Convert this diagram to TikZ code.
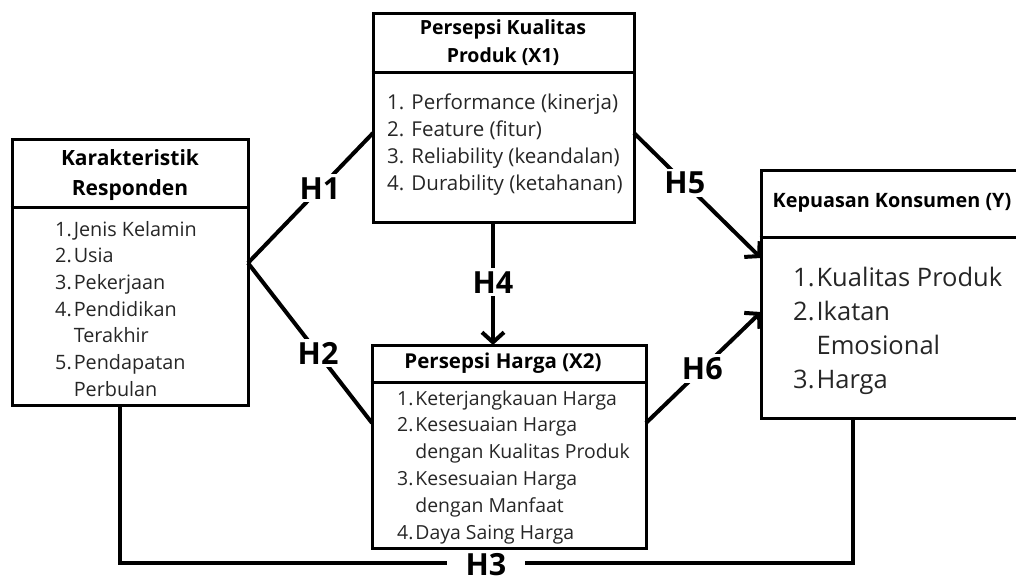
\documentclass[tikz,border=0pt]{standalone}
\usepackage{fontspec}
\setmainfont{Open Sans}
\usetikzlibrary{arrows.meta}
\begin{document}
\begin{tikzpicture}[x=1pt,y=-1pt,
  box/.style={draw=black, line width=3pt, inner sep=0pt},
  divider/.style={draw=black, line width=3pt},
  conn/.style={line width=4pt, draw=black},
  arr/.style={conn, -{Straight Barb[length=10pt,width=22pt,line width=4pt]}},
  hlab/.style={fill=white, inner sep=3pt, font=\bfseries\fontsize{30.5}{30}\selectfont},
  head/.style={align=center, inner sep=0pt, font=\bfseries\fontsize{19.5}{28}\selectfont},
  lst/.style={anchor=base west, inner sep=0pt, text=black!85}
]
\useasboundingbox (0,0) rectangle (1016,579);

% boxes
\node[box, minimum width=236pt, minimum height=266pt] (kr) at (130,272) {};
\node[box, minimum width=261pt, minimum height=209pt] (x1) at (503.5,117.5) {};
\node[box, minimum width=274pt, minimum height=203pt] (x2) at (509,446.5) {};
\node[box, minimum width=257pt, minimum height=248pt] (y) at (889.5,294) {};

% dividers
\draw[divider] (kr.west |- 0,207) -- (kr.east |- 0,207);
\draw[divider] (x1.west |- 0,72) -- (x1.east |- 0,72);
\draw[divider] (x2.west |- 0,382) -- (x2.east |- 0,382);
\draw[divider] (y.west |- 0,237) -- (y.east |- 0,237);

% headers
\node[head, font=\bfseries\fontsize{21}{30}\selectfont] (krh) at (130,175) {Karakteristik\\Responden};
\node[head] (x1h) at (503,43) {Persepsi Kualitas\\Produk (X1)};
\node[head, font=\bfseries\fontsize{20.5}{28}\selectfont] (x2h) at (503,363) {Persepsi Harga (X2)};
\node[head, font=\bfseries\fontsize{19.8}{28}\selectfont] (yh) at (892,203) {Kepuasan Konsumen (Y)};

% lists
\node[lst, font=\fontsize{19.8}{26.7}\selectfont] (krl) at (55,236)
  {\begin{tabular}[t]{@{}l@{\hspace{2pt}}l@{}}1.&Jenis Kelamin\\2.&Usia\\3.&Pekerjaan\\4.&Pendidikan\\&Terakhir\\5.&Pendapatan\\&Perbulan\end{tabular}};
\node[lst, font=\fontsize{20.5}{27}\selectfont] (x1l) at (387,109)
  {\begin{tabular}[t]{@{}l@{}}1. Performance (kinerja)\\2. Feature (fitur)\\3. Reliability (keandalan)\\4. Durability (ketahanan)\end{tabular}};
\node[lst, font=\fontsize{19.4}{26.8}\selectfont] (x2l) at (397,405)
  {\begin{tabular}[t]{@{}l@{\hspace{2pt}}l@{}}1.&Keterjangkauan Harga\\2.&Kesesuaian Harga\\&dengan Kualitas Produk\\3.&Kesesuaian Harga\\&dengan Manfaat\\4.&Daya Saing Harga\end{tabular}};
\node[lst, font=\fontsize{25.5}{34.2}\selectfont] (yl) at (793,286)
  {\begin{tabular}[t]{@{}l@{\hspace{2pt}}l@{}}1.&Kualitas Produk\\2.&Ikatan\\&Emosional\\3.&Harga\end{tabular}};

% connection points
\coordinate (krp) at (248,263);
\coordinate (x1w) at (373,133);
\coordinate (x1e) at (634,133);
\coordinate (x1s) at (493,222);
\coordinate (x2n) at (493,345);
\coordinate (x2w) at (372,423);
\coordinate (x2e) at (646,423);
\coordinate (yw1) at (761,258);
\coordinate (yw2) at (761,312);
\coordinate (krs) at (120,405);
\coordinate (ys) at (853,418);
\coordinate (bl) at (120,563);
\coordinate (br) at (853,563);

% connectors
\draw[conn] (krp) -- node[hlab, pos=0.576] (h1) {H1} (x1w);
\draw[conn] (krp) -- node[hlab, pos=0.565] (h2) {H2} (x2w);
\draw[arr] (x1s) -- node[hlab, pos=0.49] (h4) {H4} (x2n);
\draw[arr] (x1e) -- node[hlab, pos=0.40] (h5) {H5} (yw1);
\draw[arr] (x2e) -- node[hlab, pos=0.49] (h6) {H6} (yw2);
\draw[conn, line join=miter] (krs) -- (bl) -- (br) -- (ys);
\node[hlab, inner xsep=19pt, inner ysep=0pt] (h3) at (486,565) {H3};
\end{tikzpicture}
\end{document}
